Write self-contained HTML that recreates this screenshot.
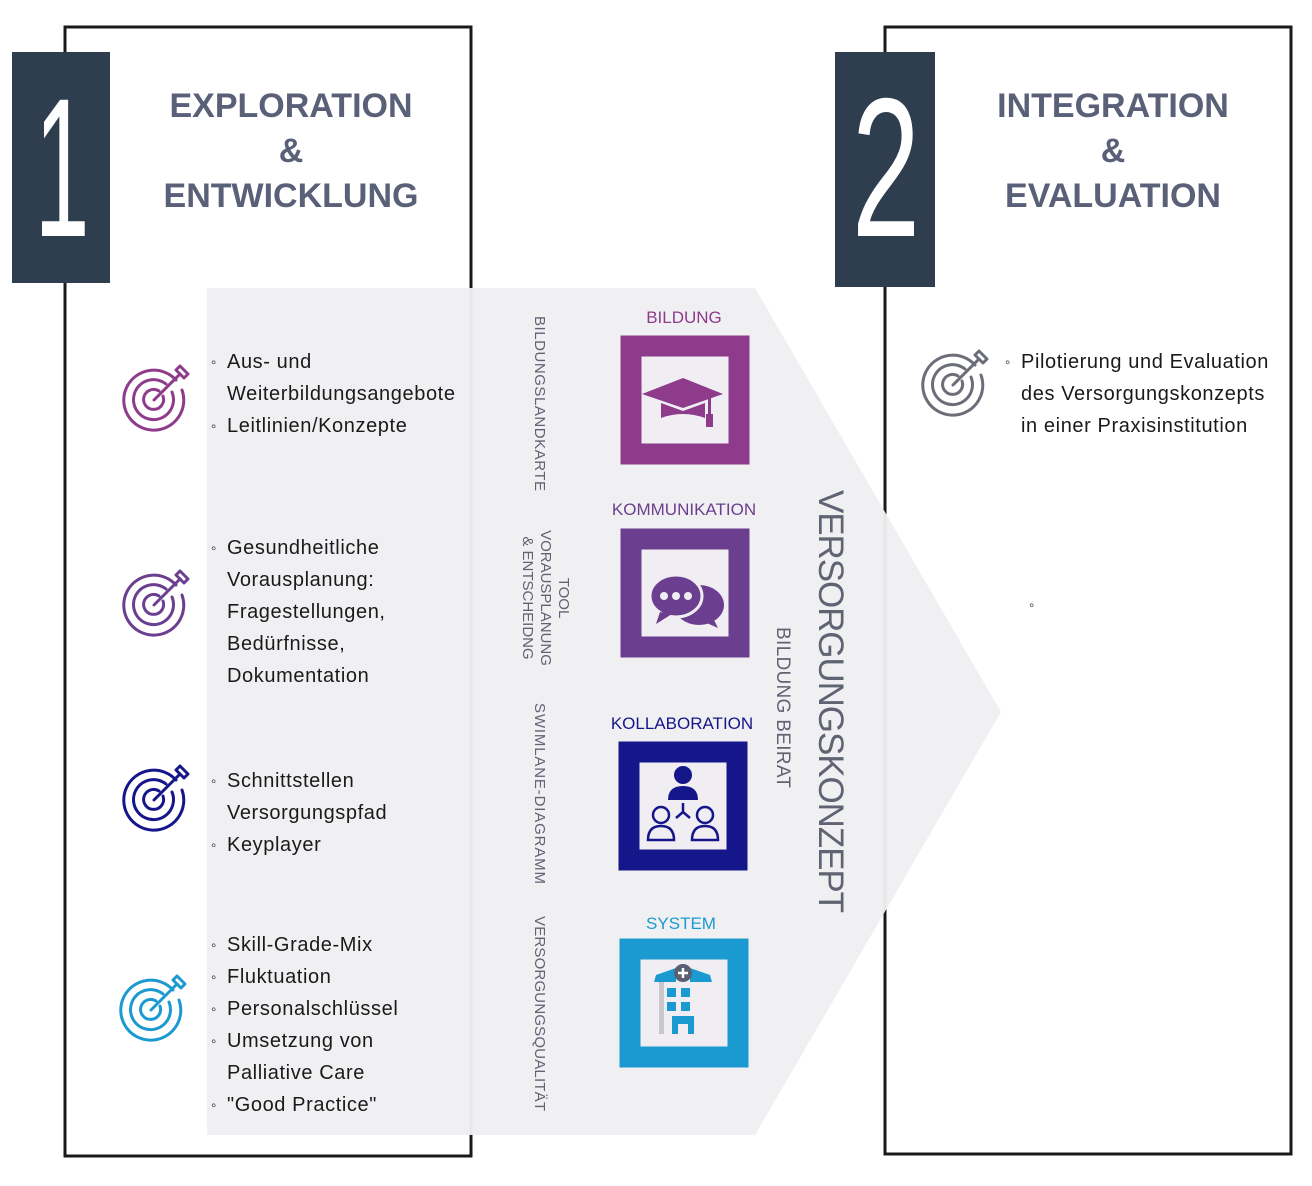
<!DOCTYPE html>
<html><head><meta charset="utf-8"><style>
html,body{margin:0;padding:0;background:#fff;}
svg{display:block;font-family:"Liberation Sans",sans-serif;}
</style></head><body>
<svg width="1312" height="1186" viewBox="0 0 1312 1186" xmlns="http://www.w3.org/2000/svg">
<defs>
<g id="tg" fill="none" stroke="currentColor" stroke-width="3" stroke-linecap="round">
<path d="M22,-20 A30,30 0 1 0 28,-10"/>
<path d="M12,-16 A20,20 0 1 0 18,-8"/>
<path d="M5,-9 A10,10 0 1 0 9,-4"/>
<line x1="0" y1="0" x2="26" y2="-26"/>
<path d="M22,-30 L26,-26 L30,-22 M26,-34 L30,-30 L34,-26 M22,-30 L26,-34 M30,-22 L34,-26"/>
</g>
</defs>
<rect x="65" y="27" width="406" height="1129" fill="none" stroke="#1a1a1a" stroke-width="3"/>
<rect x="885" y="27" width="406" height="1127" fill="none" stroke="#1a1a1a" stroke-width="3"/>
<polygon points="207,288 755,288 1001,712 755,1135 207,1135" fill="#efeff2" opacity="0.96"/>
<rect x="12" y="52" width="98" height="231" fill="#2e3e4f"/>
<text transform="translate(62,236) scale(0.5,1)" text-anchor="middle" font-size="198" fill="#fff">1</text>
<rect x="835" y="52" width="100" height="235" fill="#2e3e4f"/>
<text transform="translate(886,236) scale(0.62,1)" text-anchor="middle" font-size="198" fill="#fff">2</text>
<g font-weight="bold" font-size="34" fill="#5a6078" text-anchor="middle">
<text x="291" y="117">EXPLORATION</text>
<text x="291" y="162">&amp;</text>
<text x="291" y="207">ENTWICKLUNG</text>
<text x="1113" y="117">INTEGRATION</text>
<text x="1113" y="162">&amp;</text>
<text x="1113" y="207">EVALUATION</text>
</g>
<use href="#tg" x="154" y="400" style="color:#8e3b8c"/>
<use href="#tg" x="154" y="605" style="color:#6b3e8f"/>
<use href="#tg" x="154" y="800" style="color:#15168a"/>
<use href="#tg" x="151" y="1010" style="color:#1a9ad0"/>
<use href="#tg" x="953" y="385" style="color:#6b6d78"/>
<g font-size="20" fill="#1a1a1a" letter-spacing="0.6">
<g font-size="15" letter-spacing="0"><text x="211" y="367">◦</text><text x="211" y="431">◦</text><text x="211" y="553">◦</text><text x="211" y="786">◦</text><text x="211" y="850">◦</text>
<text x="211" y="950">◦</text><text x="211" y="982">◦</text><text x="211" y="1014">◦</text><text x="211" y="1046">◦</text><text x="211" y="1110">◦</text><text x="1005" y="367">◦</text><text x="1029" y="610">◦</text></g>
<text x="227" y="368">Aus- und</text>
<text x="227" y="400">Weiterbildungsangebote</text>
<text x="227" y="432">Leitlinien/Konzepte</text>
<text x="227" y="554">Gesundheitliche</text>
<text x="227" y="586">Vorausplanung:</text>
<text x="227" y="618">Fragestellungen,</text>
<text x="227" y="650">Bedürfnisse,</text>
<text x="227" y="682">Dokumentation</text>
<text x="227" y="787">Schnittstellen</text>
<text x="227" y="819">Versorgungspfad</text>
<text x="227" y="851">Keyplayer</text>
<text x="227" y="951">Skill-Grade-Mix</text>
<text x="227" y="983">Fluktuation</text>
<text x="227" y="1015">Personalschlüssel</text>
<text x="227" y="1047">Umsetzung von</text>
<text x="227" y="1079">Palliative Care</text>
<text x="227" y="1111">"Good Practice"</text>
<text x="1021" y="368">Pilotierung und Evaluation</text>
<text x="1021" y="400">des Versorgungskonzepts</text>
<text x="1021" y="432">in einer Praxisinstitution</text>
</g>
<g font-size="15" fill="#5f6372">
<text transform="translate(535,316) rotate(90)" textLength="175">BILDUNGSLANDKARTE</text>
<text transform="translate(559,598) rotate(90)" text-anchor="middle">TOOL</text>
<text transform="translate(541,598) rotate(90)" text-anchor="middle">VORAUSPLANUNG</text>
<text transform="translate(523,598) rotate(90)" text-anchor="middle">&amp; ENTSCHEIDNG</text>
<text transform="translate(535,703) rotate(90)" textLength="181">SWIMLANE-DIAGRAMM</text>
<text transform="translate(535,916) rotate(90)" textLength="195">VERSORGUNGSQUALITÄT</text>
<text transform="translate(777,627) rotate(90)" font-size="19" textLength="161">BILDUNG BEIRAT</text>
<text transform="translate(819,490) rotate(90)" font-size="35" textLength="423">VERSORGUNGSKONZEPT</text>
</g>
<g font-size="17" text-anchor="middle">
<text x="684" y="323" fill="#8e3b8c">BILDUNG</text>
<text x="684" y="515" fill="#6b3e8f">KOMMUNIKATION</text>
<text x="682" y="729" fill="#15168a">KOLLABORATION</text>
<text x="681" y="929" fill="#1a9ad0">SYSTEM</text>
</g>
<rect x="631" y="346" width="108" height="108" fill="#f0eef2" stroke="#8e3b8c" stroke-width="21"/>
<rect x="631" y="539" width="108" height="108" fill="#f0eef2" stroke="#6b3e8f" stroke-width="21"/>
<rect x="629" y="752" width="108" height="108" fill="#f0eef2" stroke="#15168a" stroke-width="21"/>
<rect x="630" y="949" width="108" height="108" fill="#f0eef2" stroke="#1a9ad0" stroke-width="21"/>
<g fill="#8e3b8c">
<polygon points="642,394 683,378 723,394 683,408"/>
<path d="M661,403 L661,418 Q683,410 705,418 L705,403 L683,411 Z"/>
<rect x="708" y="397" width="3" height="20"/><rect x="706" y="414" width="7" height="13"/>
</g>
<g fill="#6b3e8f">
<ellipse cx="699" cy="605" rx="25" ry="20"/>
<polygon points="700,620 718,628 710,612"/>
<ellipse cx="676" cy="596" rx="26" ry="21" stroke="#f0eef2" stroke-width="3"/>
<polygon points="660,612 656,624 672,614"/>
</g>
<g fill="#f0eef2"><circle cx="664" cy="596" r="4"/><circle cx="676" cy="596" r="4"/><circle cx="688" cy="596" r="4"/></g>
<g fill="#15168a"><circle cx="683" cy="775" r="9"/><path d="M668,800 Q668,786 683,786 Q698,786 698,800 Z"/></g>
<g fill="none" stroke="#15168a" stroke-width="2.5">
<circle cx="661" cy="815" r="8"/><circle cx="705" cy="815" r="8"/>
<path d="M648,840 Q648,826 661,826 Q674,826 674,840 Z"/><path d="M692,840 Q692,826 705,826 Q718,826 718,840 Z"/>
<path d="M683,803 L683,812 L676,818 M683,812 L690,818"/></g>
<rect x="659" y="980" width="5" height="54" fill="#c8c8cc"/>
<g fill="#1a9ad0">
<polygon points="656,975 676,968 676,982 654,982"/><polygon points="690,968 710,975 712,982 690,982"/>
<rect x="667" y="988" width="9" height="9"/><rect x="681" y="988" width="9" height="9"/>
<rect x="667" y="1002" width="9" height="9"/><rect x="681" y="1002" width="9" height="9"/>
<path d="M672,1016 L694,1016 L694,1034 L688,1034 L688,1024 L678,1024 L678,1034 L672,1034 Z"/>
</g>
<circle cx="683" cy="973" r="9" fill="#5a6072"/>
<path d="M683,968 V978 M678,973 H688" stroke="#fff" stroke-width="2.5"/>
</svg>
</body></html>
